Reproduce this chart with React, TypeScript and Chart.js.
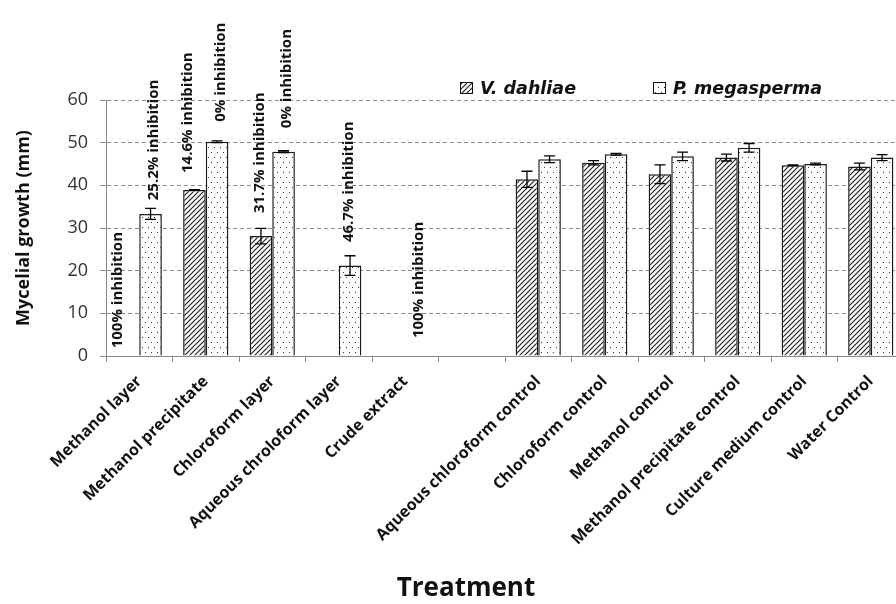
import React, { useEffect, useRef } from 'react';
import { Chart, registerables } from 'chart.js';
Chart.register(...registerables);

const categories = [
  'Methanol layer',
  'Methanol precipitate',
  'Chloroform layer',
  'Aqueous chroloform layer',
  'Crude extract',
  '',
  'Aqueous chloroform control',
  'Chloroform control',
  'Methanol control',
  'Methanol precipitate control',
  'Culture medium control',
  'Water Control',
];
const seriesNames = ['V. dahliae', 'P. megasperma'];
const vDahliae = [0, 38.9, 28.1, 0, 0, null, 41.4, 45.3, 42.6, 46.5, 44.7, 44.4];
const vDahliaeErr = [0, 0.1, 1.8, 0, 0, null, 1.9, 0.5, 2.2, 0.8, 0.1, 0.8];
const pMegasperma = [33.3, 50.2, 47.9, 21.2, 0, null, 46.1, 47.3, 46.8, 48.8, 45.0, 46.5];
const pMegaspermaErr = [1.3, 0.2, 0.2, 2.3, 0, null, 0.8, 0.2, 1.0, 1.0, 0.2, 0.7];
const yTicks = [0, 10, 20, 30, 40, 50, 60];

const noteTexts = [
  '100% inhibition',
  '25.2% inhibition',
  '14.6% inhibition',
  '0% inhibition',
  '31.7% inhibition',
  '0% inhibition',
  '46.7% inhibition',
  '100% inhibition',
];
const noteCategory = [0, 0, 1, 1, 2, 2, 3, 4];
const noteSeries = [0, 1, 0, 1, 0, 1, 1, 1];
const noteStart = [1.8, 36.5, 42.9, 54.9, 33.5, 53.4, 26.7, 4.2];

const FONT = '"Open Sans"';
const NOTE_NUDGE = [-10, 3, -7, 4, -1, 3, -1, 2];

function makeHatch(): CanvasPattern {
  const s = 5;
  const c = document.createElement('canvas');
  c.width = s;
  c.height = s;
  const g = c.getContext('2d')!;
  g.fillStyle = '#ffffff';
  g.fillRect(0, 0, s, s);
  g.strokeStyle = '#1a1a1a';
  g.lineWidth = 1.1;
  g.beginPath();
  g.moveTo(-1, s + 1);
  g.lineTo(s + 1, -1);
  g.moveTo(-1, 1);
  g.lineTo(1, -1);
  g.moveTo(s - 1, s + 1);
  g.lineTo(s + 1, s - 1);
  g.stroke();
  return g.createPattern(c, 'repeat')!;
}

function makeDots(): CanvasPattern {
  const c = document.createElement('canvas');
  c.width = 6;
  c.height = 10;
  const g = c.getContext('2d')!;
  g.fillStyle = '#ffffff';
  g.fillRect(0, 0, 6, 10);
  g.fillStyle = '#333333';
  g.fillRect(1, 2, 1, 1);
  g.fillRect(4, 7, 1, 1);
  return g.createPattern(c, 'repeat')!;
}

export default function App() {
  const ref = useRef<HTMLCanvasElement>(null);

  useEffect(() => {
    if (!ref.current) return;
    const hatch = makeHatch();
    const dots = makeDots();
    const errs = [vDahliaeErr, pMegaspermaErr];
    const vals = [vDahliae, pMegasperma];

    const errorBars = {
      id: 'errorBars',
      afterDatasetsDraw(chart: any) {
        const ctx = chart.ctx;
        const ys = chart.scales.y;
        ctx.save();
        ctx.strokeStyle = '#000';
        ctx.lineWidth = 1.3;
        for (let d = 0; d < 2; d++) {
          const meta = chart.getDatasetMeta(d);
          meta.data.forEach((el: any, i: number) => {
            const v = vals[d][i];
            const e = errs[d][i];
            if (v == null || !e) return;
            const x = el.x;
            const t = ys.getPixelForValue(v + e);
            const b = ys.getPixelForValue(v - e);
            ctx.beginPath();
            ctx.moveTo(x, t);
            ctx.lineTo(x, b);
            ctx.moveTo(x - 5.5, t);
            ctx.lineTo(x + 5.5, t);
            ctx.moveTo(x - 5.5, b);
            ctx.lineTo(x + 5.5, b);
            ctx.stroke();
          });
        }
        ctx.restore();
      },
    };

    const extras = {
      id: 'extras',
      afterDraw(chart: any) {
        const ctx = chart.ctx;
        const ys = chart.scales.y;
        ctx.save();
        // annotations
        ctx.fillStyle = '#111';
        ctx.font = `bold 15px ${FONT}`;
        ctx.textAlign = 'left';
        ctx.textBaseline = 'middle';
        noteTexts.forEach((txt, k) => {
          const el = chart.getDatasetMeta(noteSeries[k]).data[noteCategory[k]];
          const x = el.x + NOTE_NUDGE[k];
          const y = ys.getPixelForValue(noteStart[k]);
          ctx.save();
          ctx.translate(x, y);
          ctx.rotate(-Math.PI / 2);
          ctx.fillText(txt, 0, 0);
          ctx.restore();
        });
        // legend
        const pats = [hatch, dots];
        const lx = [460, 653];
        ctx.font = `italic bold 17.5px "DejaVu Sans"`;
        ctx.textBaseline = 'alphabetic';
        seriesNames.forEach((n, k) => {
          ctx.fillStyle = pats[k];
          ctx.fillRect(lx[k], 82, 12, 11);
          ctx.strokeStyle = '#111';
          ctx.lineWidth = 1;
          ctx.strokeRect(lx[k] + 0.5, 82.5, 12, 11);
          ctx.fillStyle = '#111';
          ctx.fillText(n, lx[k] + 20, 94);
        });
        // x title
        ctx.font = `bold 26px ${FONT}`;
        ctx.textAlign = 'center';
        ctx.fillStyle = '#111';
        ctx.fillText('Treatment', 466, 596);
        ctx.restore();
      },
    };

    const chart = new Chart(ref.current, {
      type: 'bar',
      data: {
        labels: categories,
        datasets: [
          {
            label: seriesNames[0],
            data: vDahliae as any,
            backgroundColor: hatch as any,
            borderColor: '#1a1a1a',
            borderWidth: 1.5,
            categoryPercentage: 0.68,
            barPercentage: 1,
          },
          {
            label: seriesNames[1],
            data: pMegasperma as any,
            backgroundColor: dots as any,
            borderColor: '#1a1a1a',
            borderWidth: 1.5,
            categoryPercentage: 0.68,
            barPercentage: 1,
          },
        ],
      },
      options: {
        responsive: false,
        animation: false,
        devicePixelRatio: 1,
        layout: { padding: { top: 100, right: 16, left: 0, bottom: 0 } },
        plugins: { legend: { display: false }, tooltip: { enabled: false } },
        scales: {
          x: {
            grid: { offset: true, drawOnChartArea: false, drawTicks: true, tickLength: 6, color: '#888' },
            border: { color: '#888', width: 1 },
            ticks: {
              autoSkip: false,
              minRotation: 45,
              maxRotation: 45,
              padding: 10,
              color: '#111',
              font: { family: FONT, weight: 'bold', size: 16 },
            },
            afterFit: (s: any) => {
              s.height = 248;
            },
          },
          y: {
            min: 0,
            max: 60,
            afterBuildTicks: (s: any) => {
              s.ticks = yTicks.map((v) => ({ value: v }));
            },
            grid: { color: '#8c8c8c', tickLength: 6, drawTicks: true },
            border: { color: '#888', width: 1, dash: [4, 3] },
            ticks: {
              padding: 12,
              color: '#333',
              font: { family: FONT, size: 18 },
            },
            title: {
              display: true,
              text: 'Mycelial growth (mm)',
              color: '#111',
              font: { family: FONT, weight: 'bold', size: 18 },
              padding: { top: 13, bottom: 0 },
            },
            afterFit: (s: any) => {
              s.width = 106;
            },
          },
        },
      },
      plugins: [errorBars, extras],
    });
    return () => chart.destroy();
  }, []);

  return (
    <div
      style={{
        position: 'absolute',
        left: 0,
        top: 0,
        width: 896,
        height: 604,
        overflow: 'hidden',
        background: '#fff',
      }}
    >
      <canvas ref={ref} width={920} height={604} style={{ display: 'block' }} />
    </div>
  );
}
